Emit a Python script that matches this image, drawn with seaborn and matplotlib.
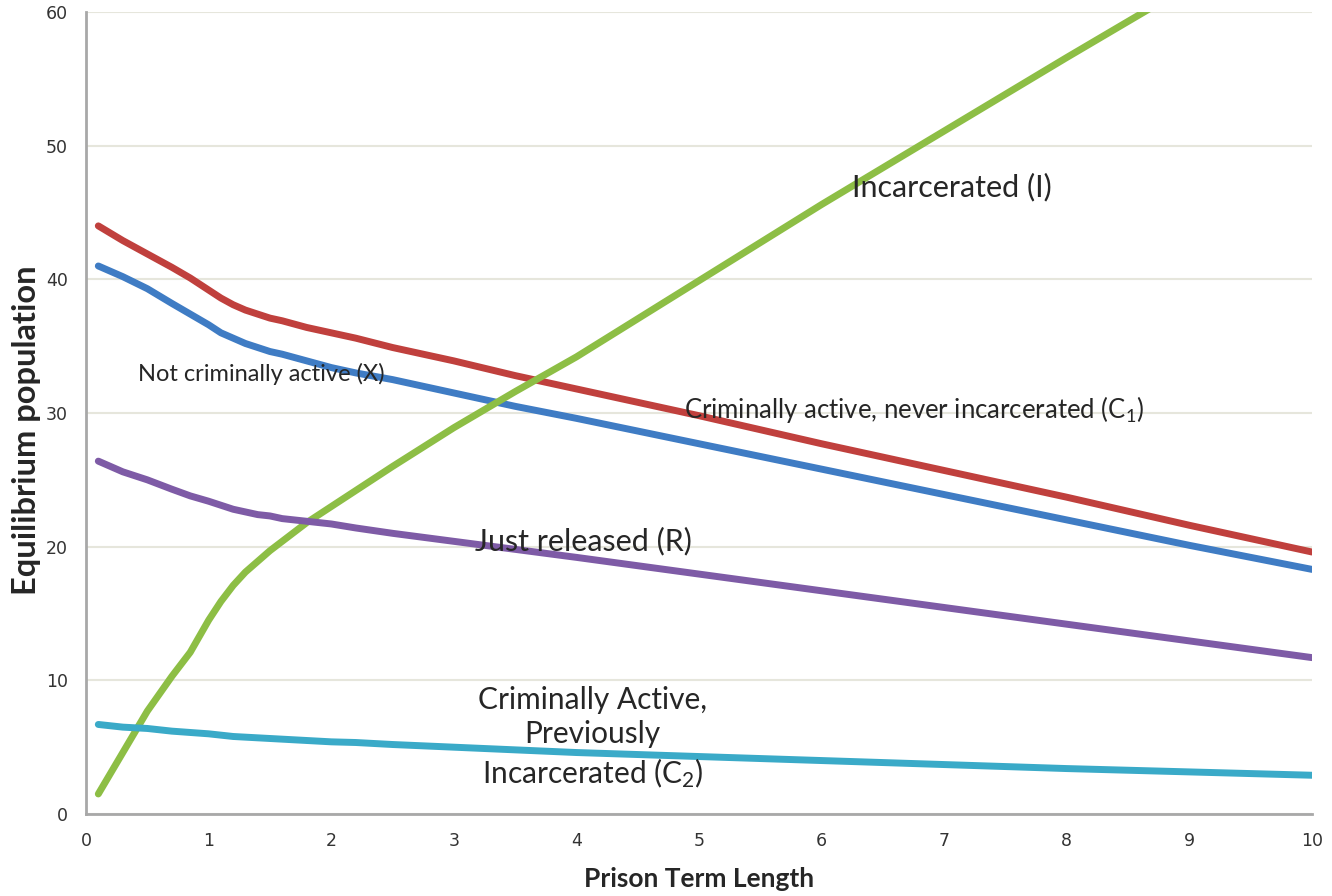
import numpy as np
import pandas as pd
import matplotlib
matplotlib.use('Agg')
import matplotlib.pyplot as plt
import seaborn as sns

# 数据
term = [0.1, 0.3, 0.5, 0.7, 0.85, 1.0, 1.1, 1.2, 1.3, 1.4, 1.5, 1.6, 1.8, 2.0, 2.2,
        2.5, 3.0, 3.5, 4.0, 5.0, 6.0, 7.0, 8.0, 9.0, 10.0]
incarcerated = [1.5, 4.6, 7.7, 10.3, 12.1, 14.5, 15.9, 17.1, 18.1, 18.9, 19.7, 20.4,
                21.8, 23.0, 24.2, 26.0, 28.9, 31.6, 34.2, 39.9, 45.6, 51.1, 56.6, 62.0, 67.4]
never_incarc = [44.0, 42.9, 41.9, 40.9, 40.1, 39.2, 38.6, 38.1, 37.7, 37.4, 37.1, 36.9,
                36.4, 36.0, 35.6, 34.9, 33.9, 32.8, 31.8, 29.8, 27.7, 25.7, 23.7, 21.6, 19.6]
not_active = [41.0, 40.2, 39.3, 38.2, 37.4, 36.6, 36.0, 35.6, 35.2, 34.9, 34.6, 34.4,
              33.9, 33.4, 33.0, 32.5, 31.5, 30.5, 29.6, 27.7, 25.8, 23.9, 22.0, 20.1, 18.3]
released = [26.4, 25.6, 25.0, 24.3, 23.8, 23.4, 23.1, 22.8, 22.6, 22.4, 22.3, 22.1,
            21.9, 21.7, 21.4, 21.0, 20.4, 19.8, 19.2, 17.95, 16.7, 15.45, 14.2, 12.95, 11.7]
prev_incarc = [6.7, 6.5, 6.4, 6.2, 6.1, 6.0, 5.9, 5.8, 5.75, 5.7, 5.65, 5.6,
               5.5, 5.4, 5.35, 5.2, 5.0, 4.8, 4.6, 4.3, 4.0, 3.7, 3.4, 3.15, 2.9]

series = {'X': not_active, 'C1': never_incarc, 'I': incarcerated,
          'R': released, 'C2': prev_incarc}
colors = {'X': '#3F7CC4', 'C1': '#C0403D', 'I': '#8DBE45',
          'R': '#7E5BA6', 'C2': '#3AAAC8'}

df = pd.concat([pd.DataFrame({'term': term, 'pop': v, 'group': k})
                for k, v in series.items()], ignore_index=True)

sns.set_theme(style='white')
plt.rcParams['font.family'] = ['Lato', 'DejaVu Sans']
plt.rcParams['mathtext.fontset'] = 'custom'
plt.rcParams['mathtext.rm'] = 'Lato'
plt.rcParams['mathtext.default'] = 'rm'

fig = plt.figure(figsize=(13.32, 8.96), dpi=100)
ax = fig.add_axes([0.0646, 0.0915, 0.9204, 0.8951])

sns.lineplot(data=df, x='term', y='pop', hue='group', palette=colors,
             linewidth=5, legend=False, ax=ax)

ax.set_xlim(0, 10)
ax.set_ylim(0, 60)
ax.set_xticks(range(0, 11))
ax.set_yticks(range(0, 61, 10))
ax.grid(axis='y', color='#E6E6DC', linewidth=1.5)
ax.set_axisbelow(True)
for s in ['top', 'right']:
    ax.spines[s].set_visible(False)
for s in ['left', 'bottom']:
    ax.spines[s].set_color('#A8A8A8')
    ax.spines[s].set_linewidth(2)
ax.tick_params(axis='both', direction='out', length=7, width=2, color='#A8A8A8',
               labelsize=12.5, labelcolor='#333333', pad=6)
for lab in ax.get_xticklabels() + ax.get_yticklabels():
    lab.set_family('DejaVu Sans')

ax.set_xlabel('Prison Term Length', fontsize=19, fontweight='bold', labelpad=12)
ax.set_ylabel('Equilibrium population', fontsize=23.5, fontweight='bold')
ax.yaxis.set_label_coords(-0.037, 0.478)

# 曲线标注
ax.text(0.42, 32.9, 'Not criminally active (X)', fontsize=17, va='center')
ax.text(4.88, 30.3, 'Criminally active, never incarcerated (C$_1$)', fontsize=18.5, va='center')
ax.text(6.25, 46.9, 'Incarcerated (I)', fontsize=22, va='center')
ax.text(3.17, 20.4, 'Just released (R)', fontsize=22, va='center')
ax.text(4.13, 5.7, 'Criminally Active,\nPreviously\nIncarcerated (C$_2$)', fontsize=21.5,
        ha='center', va='center', linespacing=1.3)

plt.savefig('out.png', dpi=100)
